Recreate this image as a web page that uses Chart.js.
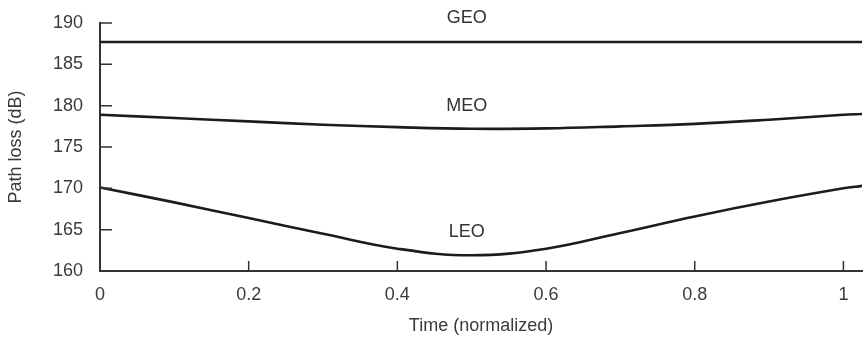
<!DOCTYPE html>
<html>
<head>
<meta charset="utf-8">
<script src="https://cdn.jsdelivr.net/npm/chart.js@4"></script>
<style>
  html, body { margin: 0; padding: 0; background: #fff; }
  #wrap { width: 866px; height: 342px; }
</style>
</head>
<body>
<div id="wrap"><canvas id="lossChart"></canvas></div>
<script>
// Datos
const timeValues = [0, 0.1, 0.2, 0.3, 0.4, 0.5, 0.6, 0.7, 0.8, 0.9, 1.0, 1.025];
const geoLoss = [187.7, 187.7, 187.7, 187.7, 187.7, 187.7, 187.7, 187.7, 187.7, 187.7, 187.7, 187.7];
const meoLoss = [178.9, 178.5, 178.1, 177.7, 177.4, 177.2, 177.25, 177.5, 177.8, 178.3, 178.9, 179.0];
const leoLoss = [170.1, 168.3, 166.4, 164.5, 162.7, 161.9, 162.7, 164.6, 166.6, 168.4, 170.0, 170.3];
const orbitNames = ['GEO', 'MEO', 'LEO'];
const labelValues = [190.6, 180.0, 164.7];   // posición vertical de cada etiqueta (dB)
const labelTime = 0.5;
const xTicks = [0, 0.2, 0.4, 0.6, 0.8, 1];
const yTicks = [160, 165, 170, 175, 180, 185, 190];

const ink = '#1c1c1c';
const font = { family: '"Liberation Sans", Arial, sans-serif', size: 18 };

function toPoints(values) {
    return timeValues.map((t, i) => ({ x: t, y: values[i] }));
}

function lineDataset(name, values) {
    return {
        label: name,
        data: toPoints(values),
        borderColor: ink,
        borderWidth: 2.6,
        pointRadius: 0,
        tension: 0.4,
        fill: false
    };
}

// Marcas de los ejes hacia dentro y etiquetas de las curvas
const decorations = {
    id: 'decorations',
    afterDraw(chart) {
        const ctx = chart.ctx;
        const xs = chart.scales.x;
        const ys = chart.scales.y;
        const area = chart.chartArea;
        ctx.save();
        ctx.strokeStyle = '#333';
        ctx.lineWidth = 1.5;
        ctx.beginPath();
        xTicks.forEach(v => {
            const px = xs.getPixelForValue(v);
            ctx.moveTo(px, area.bottom);
            ctx.lineTo(px, area.bottom - 10);
        });
        yTicks.forEach(v => {
            const py = ys.getPixelForValue(v);
            ctx.moveTo(area.left, py);
            ctx.lineTo(area.left + 12, py);
        });
        ctx.stroke();

        ctx.fillStyle = '#333';
        ctx.font = '18px "Liberation Sans", Arial, sans-serif';
        ctx.textAlign = 'center';
        ctx.textBaseline = 'middle';
        orbitNames.forEach((name, i) => {
            ctx.fillText(name, xs.getPixelForValue(labelTime) - 5, ys.getPixelForValue(labelValues[i]));
        });
        ctx.restore();
    }
};

new Chart(document.getElementById('lossChart'), {
    type: 'line',
    data: {
        datasets: [
            lineDataset('GEO', geoLoss),
            lineDataset('MEO', meoLoss),
            lineDataset('LEO', leoLoss)
        ]
    },
    options: {
        responsive: true,
        maintainAspectRatio: false,
        animation: false,
        events: [],
        layout: { padding: { top: 23, right: 4, left: 0, bottom: 0 } },
        plugins: {
            legend: { display: false },
            tooltip: { enabled: false }
        },
        scales: {
            x: {
                type: 'linear',
                min: 0,
                max: 1.025,
                afterBuildTicks: s => { s.ticks = xTicks.map(v => ({ value: v })); },
                afterFit: s => { s.height = 71; },
                grid: { display: true, drawOnChartArea: false, drawTicks: false },
                border: { display: true, color: '#333', width: 2 },
                ticks: {
                    color: '#3a3a3a', font: font, padding: 13, maxRotation: 0,
                    callback: v => String(Number(v.toFixed(1)))
                },
                title: { display: true, text: 'Time (normalized)', color: '#3a3a3a', font: font, padding: { top: 4, bottom: 5 } }
            },
            y: {
                min: 160,
                max: 190,
                afterBuildTicks: s => { s.ticks = yTicks.map(v => ({ value: v })); },
                afterFit: s => { s.width = 100; s.paddingTop = 0; s.paddingBottom = 0; },
                grid: { display: true, drawOnChartArea: false, drawTicks: false },
                border: { display: true, color: '#333', width: 2 },
                ticks: { color: '#3a3a3a', font: font, padding: 17 },
                title: { display: true, text: 'Path loss (dB)', color: '#3a3a3a', font: font, padding: { top: 5, bottom: 4 } }
            }
        }
    },
    plugins: [decorations]
});
</script>
</body>
</html>
